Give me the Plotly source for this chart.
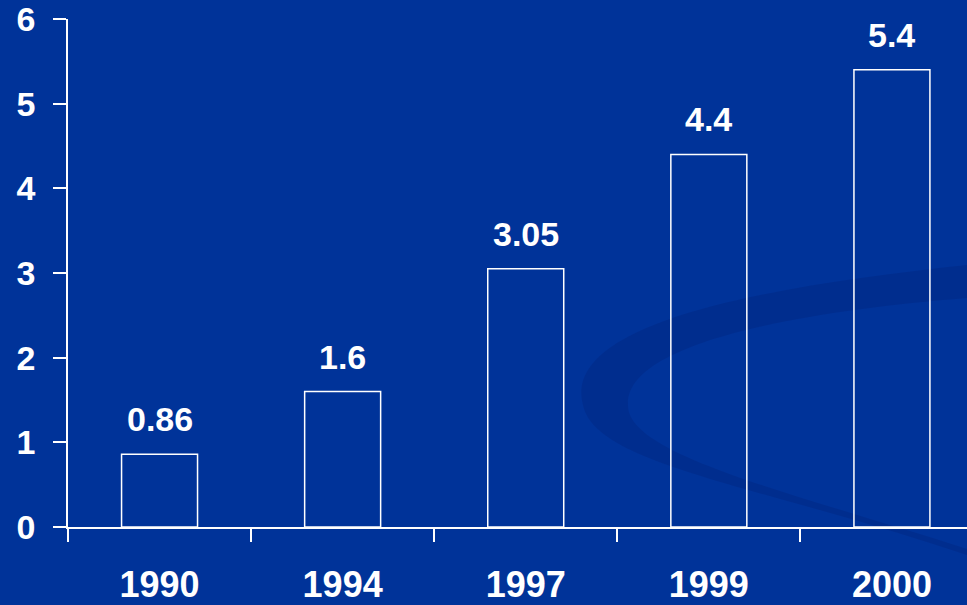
import plotly.graph_objects as go

years = ["1990", "1994", "1997", "1999", "2000"]
values = [0.86, 1.6, 3.05, 4.4, 5.4]
value_labels = ["0.86", "1.6", "3.05", "4.4", "5.4"]
y_ticks = [0, 1, 2, 3, 4, 5, 6]

BG = "#003399"
W, H = 967, 605
L, R, T, B = 68, 0, 19, 78

def px(x):
    return (x - L) / (W - L - R)

def py(y):
    return (H - B - y) / (H - B - T)

def pt(x, y):
    return f"{px(x):.4f},{py(y):.4f}"

swoosh = (
    f"M {pt(967,265)} C {pt(780,285)} {pt(560,320)} {pt(583,405)} "
    f"C {pt(595,465)} {pt(760,485)} {pt(967,555)} "
    f"L {pt(967,549)} "
    f"C {pt(790,492)} {pt(627,455)} {pt(628,405)} "
    f"C {pt(625,345)} {pt(790,312)} {pt(967,298)} Z"
)

fig = go.Figure()
fig.add_trace(go.Bar(
    x=years, y=values, width=0.415,
    marker=dict(color="rgba(0,0,0,0)", line=dict(color="white", width=1.5)),
    hoverinfo="skip",
))

fam = "Liberation Sans, Arial, sans-serif"

for i, (v, lab) in enumerate(zip(values, value_labels)):
    fig.add_annotation(xref="x", yref="y", x=i, y=v, text="<b>" + lab + "</b>",
                       showarrow=False, yanchor="bottom", yshift=14,
                       font=dict(family=fam, size=34, color="white"))

fig.add_shape(type="path", path=swoosh, xref="paper", yref="paper",
              fillcolor="rgba(0,25,100,0.2)", line=dict(width=0), layer="below")

fig.update_layout(
    width=W, height=H,
    margin=dict(l=L, r=R, t=T, b=B, pad=0, autoexpand=False),
    paper_bgcolor=BG, plot_bgcolor="rgba(0,0,0,0)",
    showlegend=False,
)
fig.update_xaxes(
    type="category", range=[-0.5, 4.41], automargin=False,
    showline=True, linecolor="white", linewidth=1.5,
    ticks="outside", tickson="boundaries", ticklen=13, tickcolor="white", tickwidth=1.5,
    showgrid=False, zeroline=False,
    tickfont=dict(family=fam, size=36, color="white", weight="bold"),
    ticklabelstandoff=25, ticklabeloverflow="allow",
)
fig.update_yaxes(
    range=[0, 6], tickvals=y_ticks, automargin=False,
    showline=True, linecolor="white", linewidth=1.5,
    ticks="outside", ticklen=13, tickcolor="white", tickwidth=1.5,
    showgrid=False, zeroline=False,
    tickfont=dict(family=fam, size=34, color="white", weight="bold"),
    ticklabelstandoff=11, ticklabeloverflow="allow",
)

fig.write_html("out.html", config={"displayModeBar": False},
               post_script="document.body.style.margin='0';document.body.style.padding='0';")
